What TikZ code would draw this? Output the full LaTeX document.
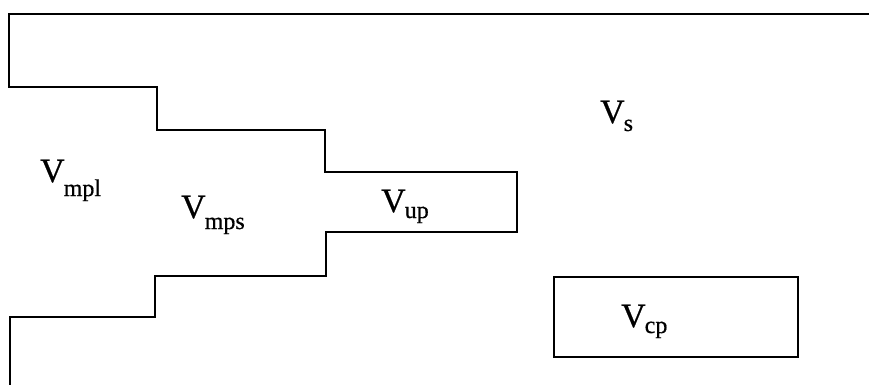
\documentclass[tikz,border=0pt]{standalone}
\usepackage{fontspec}
\setmainfont{Liberation Serif}[FakeBold=0.6]
\newcommand{\vlab}[2]{\fontsize{34}{34}\selectfont V\kern-1pt\raisebox{-#2pt}{\fontsize{24}{24}\selectfont #1}}
\begin{document}
\begin{tikzpicture}[x=1pt,y=-1pt,
  wall/.style={line width=2.4pt,line join=miter},
  lab/.style={inner sep=0pt,anchor=base west}]
\useasboundingbox (0,0) rectangle (869,385);
% main outline
\draw[wall] (869,14) -- (9,14) -- (9,87) -- (157,87) -- (157,130) -- (325,130)
  -- (325,172) -- (517,172) -- (517,232) -- (326,232) -- (326,276) -- (155,276)
  -- (155,317) -- (10,317) -- (10,385);
% Vcp box
\draw[wall] (554,277) rectangle (798,357);
% labels
\node[lab] (mpl) at (40,182) {\vlab{mpl}{14}};
\node[lab] (mps) at (181,218) {\vlab{mps}{11}};
\node[lab] (up) at (381,212) {\vlab{up}{6}};
\node[lab] (s) at (600,123) {\vlab{s}{8}};
\node[lab] (cp) at (621,327) {\vlab{cp}{6}};
\end{tikzpicture}
\end{document}
